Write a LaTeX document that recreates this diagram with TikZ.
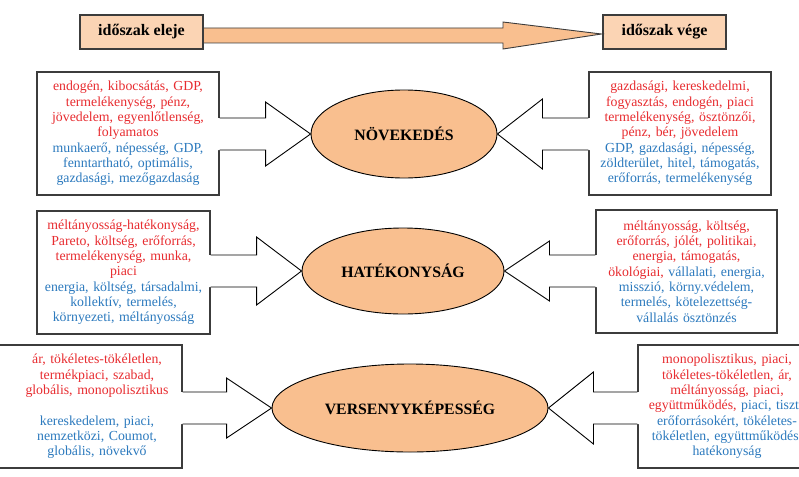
\documentclass[tikz,border=0pt]{standalone}
\usepackage{fontspec}
\setmainfont{Liberation Serif}
\usetikzlibrary{calc,shapes.geometric}
\definecolor{piros}{RGB}{232,44,48}
\definecolor{kek}{RGB}{44,122,190}
\definecolor{barack}{RGB}{249,191,143}
\definecolor{halvany}{RGB}{251,212,180}
\definecolor{keret}{RGB}{60,60,60}
% block arrow from a box side to an ellipse, #1 = half height of the head
\newcommand{\blokknyil}[3][32]{%
  \coordinate (ny-t) at (#3);
  \coordinate (ny-s) at (#2 |- ny-t);
  \coordinate (ny-h) at ($(ny-t)!45pt!(ny-s)$);
  \coordinate (ny-b) at ($(ny-s)!-1.5pt!(ny-t)$);
  \fill[white] ($(ny-b)+(0,-16)$) -- ($(ny-h)+(0,-16)$) -- ($(ny-h)+(0,-#1)$) -- (ny-t)
    -- ($(ny-h)+(0,#1)$) -- ($(ny-h)+(0,16)$) -- ($(ny-b)+(0,16)$) -- cycle;
  \draw[black,line width=0.9pt] ($(ny-s)+(0,-16)$) -- ($(ny-h)+(0,-16)$) -- ($(ny-h)+(0,-#1)$)
    -- (ny-t) -- ($(ny-h)+(0,#1)$) -- ($(ny-h)+(0,16)$) -- ($(ny-s)+(0,16)$);}

\begin{document}
\begin{tikzpicture}[x=1pt,y=-1pt,
    doboz/.style={draw=keret,line width=1.1pt,fill=white,minimum height=123pt,
      inner sep=4pt,text width=#1,align=center,font=\fontsize{13.8}{15.3}\selectfont},
    gomb/.style={ellipse,draw=black,line width=0.9pt,fill=barack,inner sep=0pt,
      font=\fontsize{15.8}{18}\selectfont\bfseries},
    fejdoboz/.style={draw=keret,line width=1.1pt,fill=halvany,minimum width=123pt,
      minimum height=34pt,inner sep=0pt,font=\fontsize{16}{18}\selectfont\bfseries}]
  \useasboundingbox (0,0) rectangle (799,476);
  \clip (0,0) rectangle (799,476);

  % time axis
  \node[fejdoboz] (eleje) at (141.5,32) {időszak eleje};
  \node[fejdoboz] (vege) at (664.5,32) {időszak vége};
  \coordinate (fo-t) at ($(vege.west)+(-1,2)$);
  \filldraw[fill=barack,draw=keret,line width=0.9pt] ($(eleje.east |- 0,28)+(0.6,0)$) -- (503,28)
    -- (503,22) -- (fo-t) -- (503,49) -- (503,43) -- ($(eleje.east |- 0,43)+(0.6,0)$);

  % concepts
  \node[gomb,minimum width=186pt,minimum height=88pt] (novek) at (404,134) {NÖVEKEDÉS};
  \node[gomb,minimum width=202pt,minimum height=86pt] (hatek) at (403,271) {HATÉKONYSÁG};
  \node[gomb,minimum width=276pt,minimum height=88pt] (verseny) at (410,408) {VERSENYYKÉPESSÉG};

  % boxes
  \node[doboz=174pt] (bal1) at (128,133.5) {\color{piros}endogén, kibocsátás, GDP,\\
    termelékenység, pénz,\\ jövedelem, egyenlőtlenség,\\ folyamatos\\
    \color{kek}munkaerő, népesség, GDP,\\ fenntartható, optimális,\\ gazdasági, mezőgazdaság};
  \node[doboz=174pt] (jobb1) at (680,133.5) {\color{piros}gazdasági, kereskedelmi,\\
    fogyasztás, endogén, piaci\\ termelékenység, ösztönzői,\\ pénz, bér, jövedelem\\
    \color{kek}GDP, gazdasági, népesség,\\ zöldterület, hitel, támogatás,\\ erőforrás, termelékenység};
  \node[doboz=165pt] (bal2) at (123.5,272.5) {\color{piros}méltányosság-hatékonyság,\\
    Pareto, költség, erőforrás,\\ termelékenység, munka,\\ piaci\\
    \color{kek}energia, költség, társadalmi,\\ kollektív, termelés,\\ környezeti, méltányosság};
  \node[doboz=173pt] (jobb2) at (686.5,271.5) {\color{piros}méltányosság, költség,\\
    erőforrás, jólét, politikai,\\ energia, támogatás,\\ ökológiai, \color{kek}vállalati, energia,\\
    misszió, körny.védelem,\\ termelés, kötelezettség-\\ vállalás ösztönzés};
  \node[doboz=180pt] (bal3) at (88,406.5) {};
  \node[text width=180pt,align=center,inner sep=0pt,font=\fontsize{13.8}{15.3}\selectfont] (bal3sz) at (97,406.5)
    {\color{piros}ár, tökéletes-tökéletlen,\\ termékpiaci, szabad,\\ globális, monopolisztikus\\[15.3pt]
    \color{kek}kereskedelem, piaci,\\ nemzetközi, Coumot,\\ globális, növekvő};
  \node[doboz=170pt] (jobb3) at (727,406.5) {\color{piros}monopolisztikus, piaci,\\
    tökéletes-tökéletlen, ár,\\ méltányosság, piaci,\\ együttműködés, \color{kek}piaci, tiszta\\
    erőforrásokért, tökéletes-\\ tökéletlen, együttműködés,\\ hatékonyság};

  % block arrows
  \blokknyil{bal1.east}{novek.west}
  \blokknyil[35]{jobb1.west}{novek.east}
  \blokknyil[34]{bal2.east}{hatek.west}
  \blokknyil[30]{jobb2.west}{hatek.east}
  \blokknyil[30]{bal3.east}{verseny.west}
  \blokknyil[36]{jobb3.west}{verseny.east}
\end{tikzpicture}
\end{document}
